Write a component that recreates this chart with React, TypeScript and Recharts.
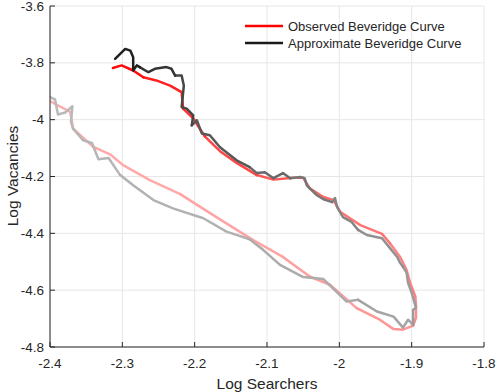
import React from "react";
import { LineChart, Line, XAxis, YAxis, CartesianGrid } from "recharts";

// axis ticks
const xTicks = [-2.4, -2.3, -2.2, -2.1, -2, -1.9, -1.8];
const yTicks = [-4.8, -4.6, -4.4, -4.2, -4, -3.8, -3.6];

// observed curve, ordered from faded (older) to solid (recent)
const observedX = [
  -2.4, -2.372, -2.368, -2.34, -2.317, -2.299, -2.262, -2.22, -2.17, -2.119,
  -2.078, -2.041, -2.013, -1.976, -1.944, -1.925, -1.912, -1.898, -1.894,
  -1.894, -1.895, -1.902, -1.907, -1.916, -1.93, -1.941, -1.971, -1.999,
  -2.008, -2.022, -2.041, -2.05, -2.064, -2.091, -2.114, -2.142, -2.165,
  -2.186, -2.193, -2.202, -2.216, -2.218, -2.234, -2.253, -2.271, -2.285,
  -2.301, -2.313,
];
const observedY = [
  -3.935, -3.973, -4.032, -4.096, -4.122, -4.16, -4.213, -4.262, -4.343,
  -4.424, -4.483, -4.552, -4.581, -4.663, -4.704, -4.737, -4.739, -4.725,
  -4.697, -4.652, -4.622, -4.575, -4.529, -4.483, -4.435, -4.402, -4.371,
  -4.324, -4.283, -4.272, -4.242, -4.204, -4.204, -4.211, -4.195, -4.152,
  -4.111, -4.059, -4.031, -3.995, -3.961, -3.903, -3.88, -3.862, -3.851,
  -3.827, -3.809, -3.818,
];

// approximate curve
const approxX = [
  -2.4, -2.393, -2.389, -2.379, -2.369, -2.371, -2.368, -2.354, -2.342,
  -2.333, -2.319, -2.303, -2.285, -2.257, -2.23, -2.188, -2.156, -2.124,
  -2.105, -2.082, -2.05, -2.022, -1.99, -1.974, -1.948, -1.925, -1.912,
  -1.905, -1.898, -1.898, -1.894, -1.9, -1.905, -1.907, -1.912, -1.916,
  -1.92, -1.93, -1.941, -1.962, -1.974, -1.983, -1.995, -2.003, -2.006,
  -2.01, -2.022, -2.031, -2.045, -2.048, -2.054, -2.068, -2.078, -2.091,
  -2.103, -2.114, -2.124, -2.142, -2.165, -2.179, -2.19, -2.197, -2.204,
  -2.202, -2.211, -2.218, -2.215, -2.218, -2.227, -2.232, -2.239, -2.255,
  -2.264, -2.276, -2.28, -2.285, -2.285, -2.289, -2.296, -2.31,
];
const approxY = [
  -3.921, -3.929, -3.982, -3.975, -3.953, -4.008, -4.032, -4.073, -4.082,
  -4.139, -4.135, -4.195, -4.231, -4.283, -4.312, -4.347, -4.394, -4.421,
  -4.459, -4.511, -4.554, -4.561, -4.64, -4.634, -4.675, -4.693, -4.732,
  -4.704, -4.722, -4.669, -4.662, -4.609, -4.574, -4.539, -4.518, -4.504,
  -4.483, -4.452, -4.417, -4.406, -4.388, -4.36, -4.343, -4.308, -4.276,
  -4.29, -4.28, -4.266, -4.231, -4.206, -4.202, -4.206, -4.188, -4.206,
  -4.185, -4.188, -4.167, -4.143, -4.097, -4.055, -4.049, -4.002, -4.02,
  -3.985, -3.961, -3.956, -3.88, -3.845, -3.845, -3.821, -3.815, -3.821,
  -3.833, -3.815, -3.809, -3.827, -3.78, -3.757, -3.751, -3.786,
];

const seriesNames = ["Observed Beveridge Curve", "Approximate Beveridge Curve"];

const FONT = "'Liberation Sans', Arial, Helvetica, sans-serif";
const INK = "#262626";
const SEGMENTS = 14;

type Pt = { x: number; y: number };

// split a path into short pieces so each can fade from light to full colour
function fadeSegments(xs: number[], ys: number[], light: number[], dark: number[]) {
  const pts: Pt[] = xs.map((x, i) => ({ x, y: ys[i] }));
  const out: { data: Pt[]; color: string }[] = [];
  const last = pts.length - 1;
  for (let s = 0; s < SEGMENTS; s++) {
    const i0 = Math.round((s * last) / SEGMENTS);
    const i1 = Math.round(((s + 1) * last) / SEGMENTS);
    const t = Math.pow((s + 0.5) / SEGMENTS, 1.8);
    const c = light.map((l, k) => Math.round(l + (dark[k] - l) * t));
    out.push({ data: pts.slice(i0, i1 + 1), color: `rgb(${c[0]},${c[1]},${c[2]})` });
  }
  return out;
}

const observedSegs = fadeSegments(observedX, observedY, [255, 172, 172], [255, 0, 0]);
const approxSegs = fadeSegments(approxX, approxY, [185, 185, 185], [22, 22, 22]);

const fmt = (v: number) => String(Number(v.toFixed(1)));

const XTick = (props: any) => {
  const { x, y, payload } = props;
  return (
    <g>
      <line x1={x} x2={x} y1={y} y2={y - 5} stroke={INK} strokeWidth={1} />
      <text x={x} y={y + 16} textAnchor="middle" dominantBaseline="central" fill={INK} fontSize={13.5} fontFamily={FONT}>
        {fmt(payload.value)}
      </text>
    </g>
  );
};

const YTick = (props: any) => {
  const { x, y, payload } = props;
  return (
    <g>
      <line x1={x} x2={x + 5} y1={y} y2={y} stroke={INK} strokeWidth={1} />
      <text x={x - 6} y={y} textAnchor="end" dominantBaseline="central" fill={INK} fontSize={13.5} fontFamily={FONT}>
        {fmt(payload.value)}
      </text>
    </g>
  );
};

export default function App() {
  return (
    <div style={{ position: "fixed", left: 0, top: 0, width: 498, height: 392, background: "#fff" }}>
      <LineChart width={498} height={392} margin={{ top: 6, right: 14, bottom: 0, left: 0 }}>
        <CartesianGrid stroke="#e6e6e6" horizontalValues={yTicks} verticalValues={xTicks} />
        <XAxis
          type="number"
          dataKey="x"
          domain={[-2.4, -1.8]}
          ticks={xTicks}
          interval={0}
          allowDataOverflow
          height={45}
          tickSize={0}
          tickMargin={0}
          tickLine={false}
          stroke={INK}
          tick={<XTick />}
        />
        <YAxis
          type="number"
          dataKey="y"
          domain={[-4.8, -3.6]}
          ticks={yTicks}
          interval={0}
          allowDataOverflow
          width={50}
          tickSize={0}
          tickMargin={0}
          tickLine={false}
          stroke={INK}
          tick={<YTick />}
        />
        {observedSegs.map((seg, i) => (
          <Line
            key={`obs-${i}`}
            data={seg.data}
            dataKey="y"
            type="linear"
            stroke={seg.color}
            strokeWidth={2.5}
            strokeLinejoin="round"
            strokeLinecap="round"
            dot={false}
            activeDot={false}
            isAnimationActive={false}
          />
        ))}
        {approxSegs.map((seg, i) => (
          <Line
            key={`apx-${i}`}
            data={seg.data}
            dataKey="y"
            type="linear"
            stroke={seg.color}
            strokeWidth={2.5}
            strokeLinejoin="round"
            strokeLinecap="round"
            dot={false}
            activeDot={false}
            isAnimationActive={false}
          />
        ))}
      </LineChart>
      <svg width={498} height={392} style={{ position: "absolute", left: 0, top: 0, pointerEvents: "none" }}>
        <line x1={245} x2={283} y1={26} y2={26} stroke="#ff0000" strokeWidth={2.5} />
        <line x1={245} x2={283} y1={43} y2={43} stroke="#1a1a1a" strokeWidth={2.5} />
        <text x={288} y={26} dominantBaseline="central" fontSize={13} fill={INK} fontFamily={FONT}>
          {seriesNames[0]}
        </text>
        <text x={288} y={43} dominantBaseline="central" fontSize={13} fill={INK} fontFamily={FONT}>
          {seriesNames[1]}
        </text>
        <text x={267} y={383} textAnchor="middle" dominantBaseline="central" fontSize={15.5} fill={INK} fontFamily={FONT}>
          Log Searchers
        </text>
        <text
          x={12}
          y={176}
          textAnchor="middle"
          dominantBaseline="central"
          fontSize={15.5}
          fill={INK}
          fontFamily={FONT}
          transform="rotate(-90 12 176)"
        >
          Log Vacancies
        </text>
      </svg>
    </div>
  );
}
